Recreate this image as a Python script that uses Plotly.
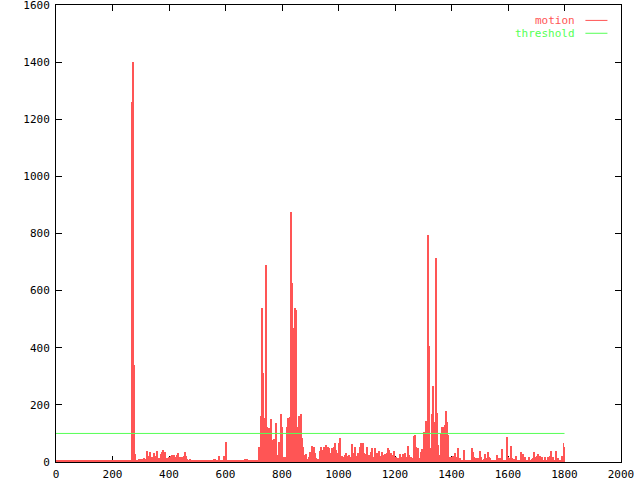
import plotly.graph_objects as go

motion_start = [4,4,4,4,4,4,7,7,7,7,7,4,4,4,4,4,7,4,7,4,4,7,4,4,7,4,7,4,7,4,4,4,7,4,4,4,4,7,4,7,
                4,4,4,7,4,7,4,7,4,4,4,7,4,4,7,4,4,7,4,7,4,4,7,4,4,4,7,7,4,4,4,7,4,4,7]
motion_peak1 = [4,1260,1400,340,28]
motion_early = [7,7,7,9,7,9,6,9,13,10,10,39,21,13,36,17,10,17,33,10,21,39,13,10,15,29,34,42,36,34,
                13,14,10,17,7,21,25,13,25,13,19,25,31,17,8,17,17,8,21,36,22,10,7,6,10]
motion_quiet = [5,8,5,5,8,5,8,5,5,5,8,5,5,8,8,8,5,5,5,5,5,5,5,10,10,5,5,5,21,5,5,5,5,21,21,71,5,5,5,5,
                5,5,5,8,5,5,5,5,5,5,8,5,5,5,9,9,9,5,5,5,8,5,5,5,8,5,5,8]
motion_cluster1 = [54,54,161,538,313,124,153,690,124,118,54,118,150,25,77,80,77,135,25,19,71,25,167,121,19,13,19,13,124,153,
                   112,159,876,628,468,330,538,532,100,124,161,156,168,85,54,25,13,27,9,7,19]
motion_middle = [36,13,56,25,51,30,13,9,9,7,38,54,19,42,54,30,59,19,54,48,30,19,50,38,54,68,42,30,19,65,
                 85,19,21,19,13,25,30,21,19,25,19,13,63,30,19,54,21,19,30,27,54,65,44,65,30,21,27,54,19,25,
                 13,34,48,15,19,50,30,19,30,38,15,21,34,25,13,27,21,30,48,42,15,30,15,25,38,19,19,13,13,15,
                 27,17,15,27,13,30,19,19,57,25,19,19,10,13]
motion_cluster2 = [91,95,54,50,50,13,7,34,45,27,106,77,143,54,795,406,50,45,167,266,124,139,713,170,60,25,7,97,124,7,
                   124,130,178,141,95,13]
motion_late = [16,19,4,21,19,30,4,17,48,4,13,4,7,4,42,
               4,4,4,4,4,4,4,48,36,17,10,13,9,13,9,38,19,4,4,9,27,15,13,34,19,13,4,4,7,4,4,4,25,7,13,
               4,13,44,4,7,7,4,89,17,13,10,57,13,7,10,10,22,4,7,4,4,36,13,27,7,17,7,4,4,17,4,4,9,13,36,
               15,19,22,29,17,21,7,17,4,7,17,7,4,19,4,21,38,7,17,7,4,38,4,13,4,7,22,21,68,54]

motion = (motion_start + motion_peak1 + motion_early + motion_quiet + motion_cluster1
          + motion_middle + motion_cluster2 + motion_late)

last_frame = 1800
frame_step = last_frame / (len(motion) - 1)
frames = [i * frame_step for i in range(len(motion))]

threshold_value = 100
threshold_frames = [0, last_frame]

x_ticks = list(range(0, 2001, 200))
y_ticks = list(range(0, 1601, 200))

RED = "#ff5555"
GREEN = "#55ff55"
FONT = "DejaVu Sans Mono"

fig = go.Figure()
fig.add_trace(go.Bar(x=frames, y=motion, width=frame_step, marker=dict(color=RED, line=dict(width=0)),
                     name="motion", showlegend=False))
fig.add_trace(go.Scatter(x=threshold_frames, y=[threshold_value, threshold_value], mode="lines",
                         line=dict(color=GREEN, width=1), name="threshold", showlegend=False))

# legend drawn gnuplot-style (text then line sample)
for label, color, yv in [("motion", RED, 1546), ("threshold", GREEN, 1501)]:
    fig.add_annotation(x=1845, y=yv, xref="x", yref="y", text=label, showarrow=False,
                       xanchor="right", yanchor="middle", font=dict(family=FONT, size=11, color=color))
    fig.add_shape(type="line", x0=1874, x1=1952, y0=yv, y1=yv, xref="x", yref="y",
                  line=dict(color=color, width=1))

axis_common = dict(showgrid=False, zeroline=False, showline=True, linecolor="black", linewidth=1,
                   mirror="ticks", ticks="inside", ticklen=6, tickcolor="black", tickwidth=1,
                   layer="below traces", ticklabeloverflow="allow", automargin=False,
                   tickfont=dict(family=FONT, size=11, color="black"))
fig.update_xaxes(range=[0, 2000], tickvals=x_ticks, ticktext=[str(v) for v in x_ticks],
                 ticklabelstandoff=2, **axis_common)
fig.update_yaxes(range=[0, 1600], tickvals=y_ticks, ticktext=[str(v) for v in y_ticks],
                 ticklabelstandoff=3, **axis_common)

fig.update_layout(width=640, height=480, margin=dict(l=56, r=19, t=5, b=18, autoexpand=False),
                  paper_bgcolor="white", plot_bgcolor="white", bargap=0, barmode="overlay")

fig.write_html("out.html", config={"displayModeBar": False},
               post_script="document.body.style.margin='0';")
